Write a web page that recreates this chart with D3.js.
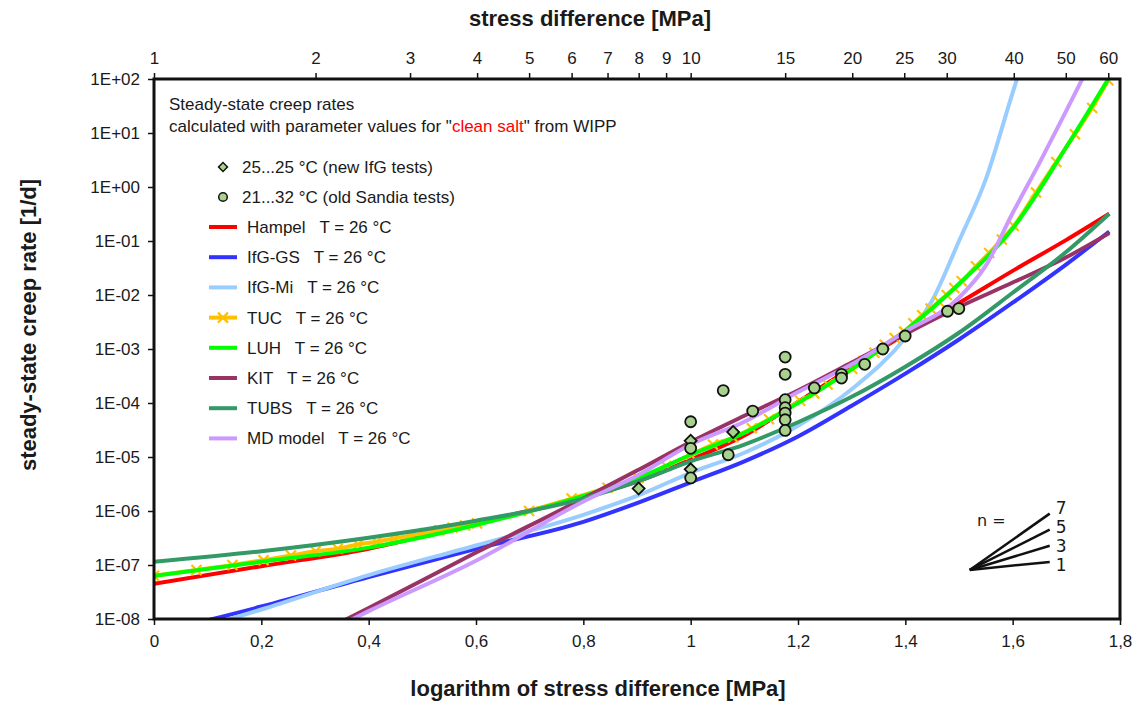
<!DOCTYPE html>
<html>
<head>
<meta charset="utf-8">
<script src="https://cdn.jsdelivr.net/npm/d3@7"></script>
<style>
body { margin: 0; background: #fff; }
svg text { font-family: "Liberation Sans", Arial, sans-serif; fill: #1a1a1a; }
</style>
</head>
<body>
<script>
// axis ticks
var rateTicks = [1e-8, 1e-7, 1e-6, 1e-5, 1e-4, 1e-3, 1e-2, 1e-1, 1e0, 1e1, 1e2];
var logStressTicks = [0, 0.2, 0.4, 0.6, 0.8, 1.0, 1.2, 1.4, 1.6, 1.8];
var stressTicks = [1, 2, 3, 4, 5, 6, 7, 8, 9, 10, 15, 20, 25, 30, 40, 50, 60];

// model curves: x = log10(stress difference / MPa), rate in 1/d
var hampelLogStress = [0, 0.2, 0.4, 0.6, 0.8, 0.9, 1.0, 1.1, 1.2, 1.3, 1.4, 1.5, 1.6, 1.7, 1.78];
var hampelRate = [4.5e-8, 9.5e-8, 2.0e-7, 6.0e-7, 1.8e-6, 3.5e-6, 8.9e-6, 2.5e-5, 1.05e-4, 4.5e-4, 1.9e-3, 7.1e-3, 2.8e-2, 0.105, 0.32];

var ifgGsLogStress = [0, 0.2, 0.4, 0.6, 0.8, 0.9, 1.0, 1.1, 1.2, 1.3, 1.4, 1.5, 1.6, 1.7, 1.78];
var ifgGsRate = [5.4e-9, 1.7e-8, 6.0e-8, 2.0e-7, 6.3e-7, 1.4e-6, 3.4e-6, 8.3e-6, 2.4e-5, 8.9e-5, 3.5e-4, 1.5e-3, 7.2e-3, 3.7e-2, 0.15];

var ifgMiLogStress = [0, 0.2, 0.4, 0.6, 0.8, 0.9, 1.0, 1.1, 1.2, 1.3, 1.4, 1.45, 1.5, 1.55, 1.6, 1.65];
var ifgMiRate = [3.8e-9, 1.5e-8, 6.5e-8, 2.3e-7, 8.5e-7, 1.9e-6, 5.1e-6, 1.2e-5, 3.8e-5, 1.8e-4, 1.6e-3, 7.9e-3, 0.1, 1.4, 56, 2000];

var tucStress = [1.0, 1.2, 1.4, 1.6, 1.8, 2.0, 2.2, 2.4, 2.6, 2.8, 3.0, 3.2, 3.4, 3.6, 3.8, 4.0,
  5, 6, 7, 8, 9, 10, 11, 12, 13, 14, 15, 16, 17, 18, 19, 20, 21, 22, 23, 24, 25, 26, 27, 28, 29, 30, 31, 32,
  34, 36, 38, 40, 44, 48, 52, 56, 60];
var tucRate = [6.3e-8, 8.1e-8, 1.0e-7, 1.23e-7, 1.5e-7, 1.8e-7, 2.0e-7, 2.4e-7, 2.7e-7, 3.1e-7, 3.5e-7, 3.9e-7, 4.4e-7, 4.9e-7, 5.4e-7, 5.9e-7,
  1.0e-6, 1.7e-6, 2.7e-6, 4.1e-6, 6.8e-6, 1.1e-5, 1.7e-5, 2.3e-5, 3.4e-5, 5.0e-5, 7.4e-5, 1.1e-4, 1.5e-4, 2.2e-4, 3.1e-4, 4.3e-4,
  6.0e-4, 8.5e-4, 1.2e-3, 1.6e-3, 2.1e-3, 3.0e-3, 4.2e-3, 5.6e-3, 7.6e-3, 1.0e-2, 1.35e-2, 1.8e-2,
  3.4e-2, 6.0e-2, 0.107, 0.19, 0.79, 2.9, 9.5, 29, 95];

var luhLogStress = [0, 0.2, 0.4, 0.6, 0.8, 0.9, 1.0, 1.1, 1.2, 1.3, 1.4, 1.5, 1.6, 1.7, 1.78];
var luhRate = [6.3e-8, 1.15e-7, 2.1e-7, 5.5e-7, 1.9e-6, 4.0e-6, 1.1e-5, 2.8e-5, 1.0e-4, 4.2e-4, 2.2e-3, 1.6e-2, 0.17, 5.5, 107];

var kitLogStress = [0.3, 0.4, 0.6, 0.8, 0.9, 1.0, 1.1, 1.2, 1.3, 1.4, 1.5, 1.6, 1.7, 1.78];
var kitRate = [5.0e-9, 1.6e-8, 1.7e-7, 1.7e-6, 5.6e-6, 1.9e-5, 5.8e-5, 1.7e-4, 5.6e-4, 1.9e-3, 6.0e-3, 1.7e-2, 5.0e-2, 0.14];

var tubsLogStress = [0, 0.2, 0.4, 0.6, 0.8, 0.9, 1.0, 1.1, 1.2, 1.3, 1.4, 1.5, 1.6, 1.7, 1.78];
var tubsRate = [1.15e-7, 1.8e-7, 3.2e-7, 6.6e-7, 1.7e-6, 3.5e-6, 8.3e-6, 1.7e-5, 4.4e-5, 1.3e-4, 4.7e-4, 2.0e-3, 1.1e-2, 6.3e-2, 0.32];

var mdLogStress = [0.3, 0.4, 0.6, 0.8, 0.9, 1.0, 1.1, 1.2, 1.3, 1.4, 1.5, 1.55, 1.6, 1.65, 1.7, 1.75];
var mdRate = [4.5e-9, 1.4e-8, 1.2e-7, 1.5e-6, 4.5e-6, 1.7e-5, 4.5e-5, 1.6e-4, 5.2e-4, 2.1e-3, 8.9e-3, 3.5e-2, 0.33, 2.8, 26, 250];

// lab tests (stress in MPa, rate in 1/d)
var ifgTestStress = [8, 10, 10, 12];
var ifgTestRate = [2.6e-6, 2.0e-5, 5.9e-6, 2.9e-5];
var sandiaStress = [10, 10, 10, 11.5, 11.75, 13.05, 15, 15, 15, 15, 15, 15, 15, 17, 19.1, 19.1, 21.1, 22.8, 25.1, 30.1, 31.6];
var sandiaRate = [4.5e-5, 1.45e-5, 4.1e-6, 1.7e-4, 1.1e-5, 7.1e-5, 7.1e-4, 3.4e-4, 1.15e-4, 8.2e-5, 6.5e-5, 4.9e-5, 3.1e-5, 1.9e-4, 3.4e-4, 2.9e-4, 5.2e-4, 1.0e-3, 1.74e-3, 5.0e-3, 5.6e-3];

// slope triangle
var slopeValues = [1, 3, 5, 7];
var slopeOriginLogStress = 1.52;
var slopeOriginRate = 8.1e-8;
var slopeRun = 0.149;

var seriesNames = ["Hampel", "IfG-GS", "IfG-Mi", "TUC", "LUH", "KIT", "TUBS", "MD model"];
var seriesColors = ["#ff0000", "#3333ff", "#99ccff", "#ffc000", "#00ff00", "#993366", "#339966", "#cc99ff"];

var W = 1142, H = 704;
var plotLeft = 154, plotRight = 1120, plotTop = 79, plotBottom = 619;

var svg = d3.select("body").append("svg").attr("width", W).attr("height", H);

var x = d3.scaleLinear().domain([0, 1.8]).range([plotLeft, plotRight]);
var xTop = d3.scaleLog().domain([1, Math.pow(10, 1.8)]).range([plotLeft, plotRight]);
var y = d3.scaleLog().domain([1e-8, 1e2]).range([plotBottom, plotTop]);

svg.append("clipPath").attr("id", "plotClip")
  .append("rect").attr("x", plotLeft).attr("y", plotTop)
  .attr("width", plotRight - plotLeft).attr("height", plotBottom - plotTop);

function pairs(xs, ys) { return xs.map(function(v, i) { return [v, ys[i]]; }); }

var curves = [
  pairs(hampelLogStress, hampelRate),
  pairs(ifgGsLogStress, ifgGsRate),
  pairs(ifgMiLogStress, ifgMiRate),
  pairs(tucStress.map(function(s) { return Math.log10(s); }), tucRate),
  pairs(luhLogStress, luhRate),
  pairs(kitLogStress, kitRate),
  pairs(tubsLogStress, tubsRate),
  pairs(mdLogStress, mdRate)
];

var line = d3.line()
  .x(function(d) { return x(d[0]); })
  .y(function(d) { return y(d[1]); })
  .curve(d3.curveMonotoneX);

var plot = svg.append("g").attr("clip-path", "url(#plotClip)");

curves.forEach(function(c, i) {
  plot.append("path")
    .attr("d", line(c))
    .attr("fill", "none")
    .attr("stroke", seriesColors[i])
    .attr("stroke-width", 4);
  if (seriesNames[i] === "TUC") {
    plot.selectAll(".tucMark")
      .data(c)
      .enter()
      .append("path")
      .attr("class", "tucMark")
      .attr("transform", function(d) { return "translate(" + x(d[0]) + "," + y(d[1]) + ")"; })
      .attr("d", "M-5,-5L5,5M-5,5L5,-5")
      .attr("stroke", seriesColors[i])
      .attr("stroke-width", 2.2);
  }
});

// lab points
var pointFill = "#a9d18e";
svg.selectAll(".ifg")
  .data(pairs(ifgTestStress, ifgTestRate))
  .enter()
  .append("path")
  .attr("class", "ifg")
  .attr("transform", function(d) { return "translate(" + xTop(d[0]) + "," + y(d[1]) + ") rotate(45)"; })
  .attr("d", d3.symbol().type(d3.symbolSquare).size(72))
  .attr("fill", pointFill)
  .attr("stroke", "#111")
  .attr("stroke-width", 1.8);
svg.selectAll(".sandia")
  .data(pairs(sandiaStress, sandiaRate))
  .enter()
  .append("circle")
  .attr("class", "sandia")
  .attr("cx", function(d) { return xTop(d[0]); })
  .attr("cy", function(d) { return y(d[1]); })
  .attr("r", 5.5)
  .attr("fill", pointFill)
  .attr("stroke", "#111")
  .attr("stroke-width", 1.8);

// frame and axes
svg.append("rect")
  .attr("x", plotLeft).attr("y", plotTop)
  .attr("width", plotRight - plotLeft).attr("height", plotBottom - plotTop)
  .attr("fill", "none").attr("stroke", "#111").attr("stroke-width", 3);

function expFormat(d) {
  var e = Math.round(Math.log10(d));
  var a = Math.abs(e);
  return "1E" + (e < 0 ? "-" : "+") + (a < 10 ? "0" : "") + a;
}
function commaFormat(d) {
  return Math.abs(d - Math.round(d)) < 1e-9 ? String(Math.round(d)) : d.toFixed(1).replace(".", ",");
}

var gLeft = svg.append("g").attr("transform", "translate(" + plotLeft + ",0)")
  .call(d3.axisLeft(y).tickValues(rateTicks).tickFormat(expFormat).tickSize(6).tickPadding(8));
var gBottom = svg.append("g").attr("transform", "translate(0," + plotBottom + ")")
  .call(d3.axisBottom(x).tickValues(logStressTicks).tickFormat(commaFormat).tickSize(6).tickPadding(10));
var gTop = svg.append("g").attr("transform", "translate(0," + plotTop + ")")
  .call(d3.axisTop(xTop).tickValues(stressTicks).tickFormat(d3.format("d")).tickSize(6).tickPadding(9));

[gLeft, gBottom, gTop].forEach(function(g) {
  g.select(".domain").remove();
  g.selectAll(".tick line").attr("stroke", "#111").attr("stroke-width", 1.5);
  g.selectAll(".tick text").attr("font-size", 17).attr("font-family", "Liberation Sans, Arial, sans-serif").attr("fill", "#1a1a1a");
});

// axis titles
svg.append("text").attr("x", 590).attr("y", 26).attr("text-anchor", "middle")
  .attr("font-size", 22).attr("font-weight", "bold").text("stress difference [MPa]");
svg.append("text").attr("x", 598).attr("y", 696).attr("text-anchor", "middle")
  .attr("font-size", 22).attr("font-weight", "bold").text("logarithm of stress difference [MPa]");
svg.append("text").attr("transform", "translate(36,325) rotate(-90)").attr("text-anchor", "middle")
  .attr("font-size", 22).attr("font-weight", "bold").text("steady-state creep rate [1/d]");

// legend
svg.append("text").attr("x", 169).attr("y", 110).attr("font-size", 17).text("Steady-state creep rates");
var l2 = svg.append("text").attr("x", 169).attr("y", 132).attr("font-size", 17);
l2.append("tspan").text("calculated with parameter values for \"");
l2.append("tspan").style("fill", "#ff0000").text("clean salt");
l2.append("tspan").text("\" from WIPP");

svg.append("path")
  .attr("transform", "translate(223,167) rotate(45)")
  .attr("d", d3.symbol().type(d3.symbolSquare).size(40))
  .attr("fill", pointFill).attr("stroke", "#111").attr("stroke-width", 1.5);
svg.append("text").attr("x", 242).attr("y", 173).attr("font-size", 17).text("25...25 °C (new IfG tests)");
svg.append("circle").attr("cx", 223).attr("cy", 197).attr("r", 4.3)
  .attr("fill", pointFill).attr("stroke", "#111").attr("stroke-width", 1.5);
svg.append("text").attr("x", 242).attr("y", 203).attr("font-size", 17).text("21...32 °C (old Sandia tests)");

seriesNames.forEach(function(name, i) {
  var ly = 227 + i * 30.2;
  svg.append("line").attr("x1", 209).attr("x2", 237).attr("y1", ly).attr("y2", ly)
    .attr("stroke", seriesColors[i]).attr("stroke-width", 4);
  if (name === "TUC") {
    svg.append("path").attr("transform", "translate(223," + ly + ")")
      .attr("d", "M-5,-5L5,5M-5,5L5,-5").attr("stroke", seriesColors[i]).attr("stroke-width", 2.2);
  }
  svg.append("text").attr("x", 247).attr("y", ly + 6).attr("font-size", 17)
    .style("white-space", "pre")
    .text(name + "   T = 26 °C");
});

// slope indicator
var sx0 = x(slopeOriginLogStress), sy0 = y(slopeOriginRate);
var labelShift = [3, 0, -3, -6];
slopeValues.forEach(function(n, i) {
  var endRate = slopeOriginRate * Math.pow(10, n * slopeRun);
  var ex = x(slopeOriginLogStress + slopeRun), ey = y(endRate);
  svg.append("line").attr("x1", sx0).attr("y1", sy0).attr("x2", ex).attr("y2", ey)
    .attr("stroke", "#111").attr("stroke-width", 2.5);
  svg.append("text").attr("x", ex + 6).attr("y", ey + labelShift[i] + 6)
    .style("font-family", "DejaVu Sans")
    .attr("font-size", 17).text(n);
});
svg.append("text").attr("x", 977).attr("y", 526)
  .style("font-family", "DejaVu Sans").attr("font-size", 16).text("n =");
</script>
</body>
</html>
